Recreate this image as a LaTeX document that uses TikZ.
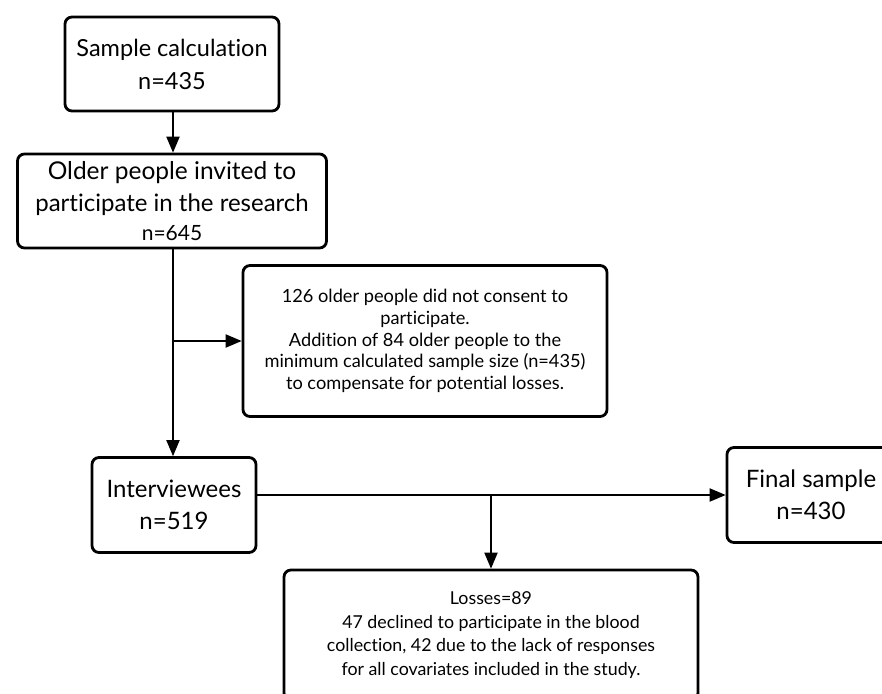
\documentclass[tikz,border=0pt]{standalone}
\usepackage{fontspec}
\setmainfont{Lato}[Ligatures=NoCommon]
\usetikzlibrary{arrows}
\usetikzlibrary{positioning}
\tikzset{x=1pt, y=-1pt,
every box/.style={ % Sets the properties for each box
draw, line width=2.8pt,
rounded corners=7pt,
align=center,
inner sep=0pt},
big text/.style={font=\fontsize{24}{32}\selectfont},
flow/.style={ % Sets the properties for each connector
draw,
line width=2.8pt,
>=triangle 45}}

\begin{document}
\begin{tikzpicture}
\useasboundingbox (0,0) rectangle (882,693);
\clip (0,0) rectangle (882,693);
\node[every box, font=\fontsize{23.5}{33}\selectfont, minimum width=214pt, minimum height=94pt] (calc) at (172,64) {Sample calculation\\n=435};
\node[every box, big text, minimum width=309pt, minimum height=94pt] (invited) at (172,201)
{\fontsize{24.5}{27.5}\selectfont Older people invited to\\participate in the research\\[-3pt]\fontsize{21}{26}\selectfont n=645};
\node[every box, font=\fontsize{18.2}{21.6}\selectfont, minimum width=364pt, minimum height=151pt] (consent) at (425,341)
{126 older people did not consent to\\participate.\\Addition of 84 older people to the\\minimum calculated sample size (n=435)\\to compensate for potential losses.};
\node[every box, big text, minimum width=164pt, minimum height=95pt] (interv) at (174,505) {Interviewees\\n=519};
\node[every box, big text, minimum width=168pt, minimum height=95pt] (final) at (811,495) {Final sample\\n=430};
\node[every box, font=\fontsize{17.8}{23.5}\selectfont, minimum width=414pt, minimum height=130pt] (losses) at (491,635)
{Losses=89\\47 declined to participate in the blood\\collection, 42 due to the lack of responses\\for all covariates included in the study.};
\coordinate (split) at (173,341);
\coordinate (merge) at (491,495);
\draw[flow, ->] (calc.south -| split) -- (invited.north -| split);
\draw[flow, ->] (invited.south -| split) -- (interv.north -| split);
\draw[flow, ->] (split) -- (consent.west);
\draw[flow] (interv.east |- merge) -- (merge);
\draw[flow, ->] (merge) -- (final.west);
\draw[flow, ->] (merge) -- (losses.north -| merge);
\end{tikzpicture}
\end{document}
